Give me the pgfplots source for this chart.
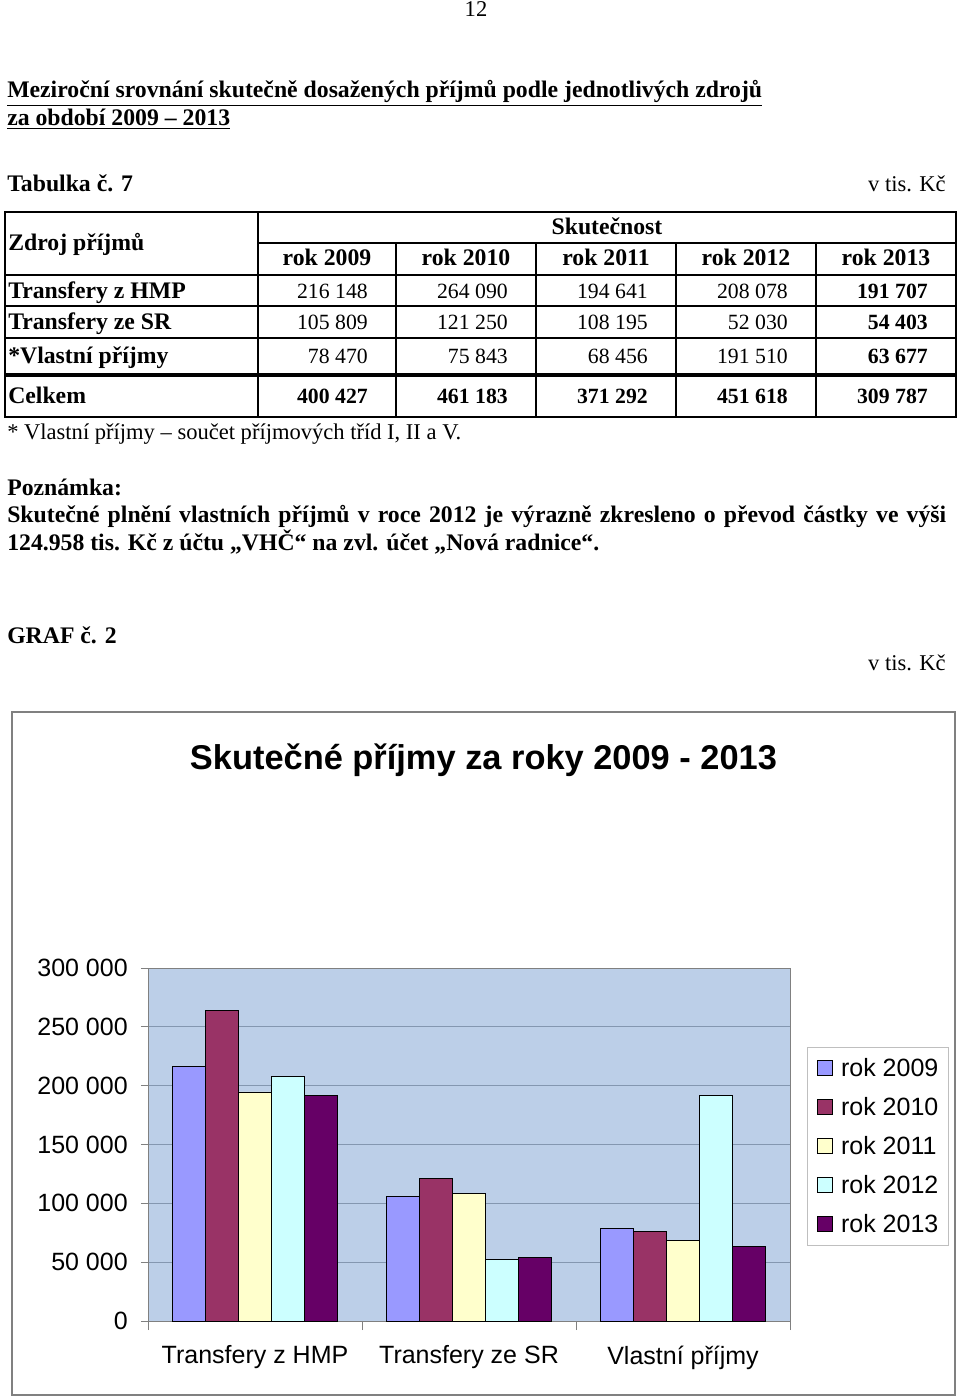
\documentclass[border=0pt]{standalone}
\usepackage{fontspec}
\setmainfont{Liberation Serif}
\newfontfamily\chartfont{Liberation Sans}
\usepackage{pgfplots}
\pgfplotsset{compat=1.18}
\definecolor{c09}{HTML}{9999FF}
\definecolor{c10}{HTML}{993366}
\definecolor{c11}{HTML}{FFFFCC}
\definecolor{c12}{HTML}{CCFFFF}
\definecolor{c13}{HTML}{660066}
\definecolor{plotbg}{HTML}{BCCFE8}
\definecolor{gridc}{HTML}{8497B0}
\newcommand\bodyfont{\fontsize{16.9}{20}\selectfont}
\newcommand\bfont{\fontsize{17.8}{21}\selectfont\bfseries}
\newcommand\numfont{\fontsize{16.3}{20}\selectfont}
\newcommand\cf{\chartfont\fontsize{18.75}{22}\selectfont}
\pgfplotsset{legimg/.style={legend image code/.code={\draw[##1,draw=black,line width=0.6pt] (0pt,-5.6pt) rectangle (11.25pt,5.6pt);}}}
\begin{document}
\begin{tikzpicture}[x=0.75pt,y=-0.75pt]
\fill[white] (0,0) rectangle (960,1398);
\useasboundingbox (0,0) rectangle (960,1398);
% page text
\node[anchor=base,font=\bodyfont] at (476,17) {12};
\node[anchor=base west,font=\bfont,inner sep=0pt] at (7,98) {\underline{Meziroční srovnání skutečně dosažených příjmů podle jednotlivých zdrojů}};
\node[anchor=base west,font=\bfont,inner sep=0pt] at (7,126) {\underline{za období 2009 – 2013}};
\node[anchor=base west,font=\bfont,inner sep=0pt] at (7,192) {Tabulka č. 7};
\node[anchor=base east,font=\bodyfont,inner sep=0pt] at (946,192) {v tis. Kč};
% table
\draw[line width=2pt] (5,212) rectangle (956,417);
\draw[line width=1.6pt] (258,243) -- (956,243);
\draw[line width=1.6pt] (5,275) -- (956,275);
\draw[line width=1.6pt] (5,306) -- (956,306);
\draw[line width=1.6pt] (5,338) -- (956,338);
\draw[line width=3.2pt] (5,375) -- (956,375);
\draw[line width=1.6pt] (258,212) -- (258,417);
\foreach \x in {396,536,676,816} \draw[line width=1.6pt] (\x,243) -- (\x,417);
\node[anchor=base,font=\bfont,inner sep=0pt] at (607,235) {Skutečnost};
\node[anchor=base west,font=\bfont,inner sep=0pt] at (8,250) {Zdroj příjmů};
\foreach \x/\t in {327/2009,466/2010,606/2011,746/2012,886/2013}
  \node[anchor=base,font=\bfont,inner sep=0pt] at (\x,266) {rok \t};
\node[anchor=base west,font=\bfont,inner sep=0pt] at (8,298) {Transfery z HMP};
\node[anchor=base west,font=\bfont,inner sep=0pt] at (8,329) {Transfery ze SR};
\node[anchor=base west,font=\bfont,inner sep=0pt] at (8,363) {*Vlastní příjmy};
\node[anchor=base west,font=\bfont,inner sep=0pt] at (8,403) {Celkem};
\foreach \x/\a/\b/\c in {368/216 148/105 809/78 470,508/264 090/121 250/75 843,648/194 641/108 195/68 456,788/208 078/52 030/191 510}{
  \node[anchor=base east,font=\numfont,inner sep=0pt] at (\x,298) {\a};
  \node[anchor=base east,font=\numfont,inner sep=0pt] at (\x,329) {\b};
  \node[anchor=base east,font=\numfont,inner sep=0pt] at (\x,363) {\c};
}
\node[anchor=base east,font=\numfont\bfseries,inner sep=0pt] at (928,298) {191 707};
\node[anchor=base east,font=\numfont\bfseries,inner sep=0pt] at (928,329) {54 403};
\node[anchor=base east,font=\numfont\bfseries,inner sep=0pt] at (928,363) {63 677};
\foreach \x/\v in {368/400 427,508/461 183,648/371 292,788/451 618,928/309 787}
  \node[anchor=base east,font=\numfont\bfseries,inner sep=0pt] at (\x,403) {\v};
\node[anchor=base west,font=\bodyfont,inner sep=0pt] at (7,439) {* Vlastní příjmy – součet příjmových tříd I, II a V.};
\node[anchor=base west,font=\bfont,inner sep=0pt] at (7,495) {Poznámka:};
\node[anchor=base west,font=\bfont,inner sep=0pt] at (7,522) {\makebox[704.25pt][s]{Skutečné plnění vlastních příjmů v roce 2012 je výrazně zkresleno o převod částky ve výši}};
\node[anchor=base west,font=\bfont,inner sep=0pt] at (7,550) {124.958 tis. Kč z účtu „VHČ“ na zvl. účet „Nová radnice“.};
\node[anchor=base west,font=\bfont,inner sep=0pt] at (7,643) {GRAF č. 2};
\node[anchor=base east,font=\bodyfont,inner sep=0pt] at (946,670) {v tis. Kč};
% chart frame
\draw[gray,line width=1pt] (12,712) rectangle (955,1395);
\node[anchor=base,font=\chartfont\bfseries\fontsize{25.8}{30}\selectfont,inner sep=0pt] at (483.5,769) {Skutečné příjmy za roky 2009 - 2013};
\coordinate (axorig) at (148,1321);
\begin{axis}[
  at={(axorig)}, anchor=south west, scale only axis,
  width=481.5pt, height=264.75pt,
  xmin=0, xmax=3, ymin=0, ymax=300000,
  ybar=0pt, bar width=24.75pt,
  axis background/.style={fill=plotbg},
  axis line style={draw=gray},
  ymajorgrids, grid style={draw=gridc, line width=0.6pt},
  ytick={0,50000,100000,150000,200000,250000,300000},
  xtick={0.5,1.5,2.5},
  xticklabels={Transfery z HMP, Transfery ze SR, Vlastní příjmy},
  minor xtick={0,1,2,3},
  tick align=outside, tick pos=left,
  major tick length=5.25pt, minor tick length=6.75pt,
  tick style={draw=gray, line width=0.6pt},
  major x tick style={draw=none},
  scaled y ticks=false,
  /pgf/number format/.cd, fixed, 1000 sep={\ }, assume math mode=true, /pgfplots/.cd,
  ticklabel style={font=\cf},
  yticklabel style={inner xsep=0pt, xshift=-9.75pt},
  xticklabel style={inner ysep=0pt, yshift=-13pt},
  legend style={at={(1.0265,0.776)}, anchor=north west, draw=gray!50, fill=white,
    font=\cf, inner xsep=7.5pt, inner ysep=1pt, row sep=0pt, column sep=6pt,
    nodes={text height=21pt, text depth=8.25pt, inner ysep=0pt, inner xsep=0pt}},
  legend cell align=left,
]
\addplot[fill=c09, draw=black, line width=0.6pt, legimg] coordinates {(0.5,216148) (1.5,105809) (2.5,78470)};
\addplot[fill=c10, draw=black, line width=0.6pt, legimg] coordinates {(0.5,264090) (1.5,121250) (2.5,75843)};
\addplot[fill=c11, draw=black, line width=0.6pt, legimg] coordinates {(0.5,194641) (1.5,108195) (2.5,68456)};
\addplot[fill=c12, draw=black, line width=0.6pt, legimg] coordinates {(0.5,208078) (1.5,52030) (2.5,191510)};
\addplot[fill=c13, draw=black, line width=0.6pt, legimg] coordinates {(0.5,191707) (1.5,54403) (2.5,63677)};
\legend{rok 2009, rok 2010, rok 2011, rok 2012, rok 2013}
\end{axis}
\end{tikzpicture}
\end{document}
